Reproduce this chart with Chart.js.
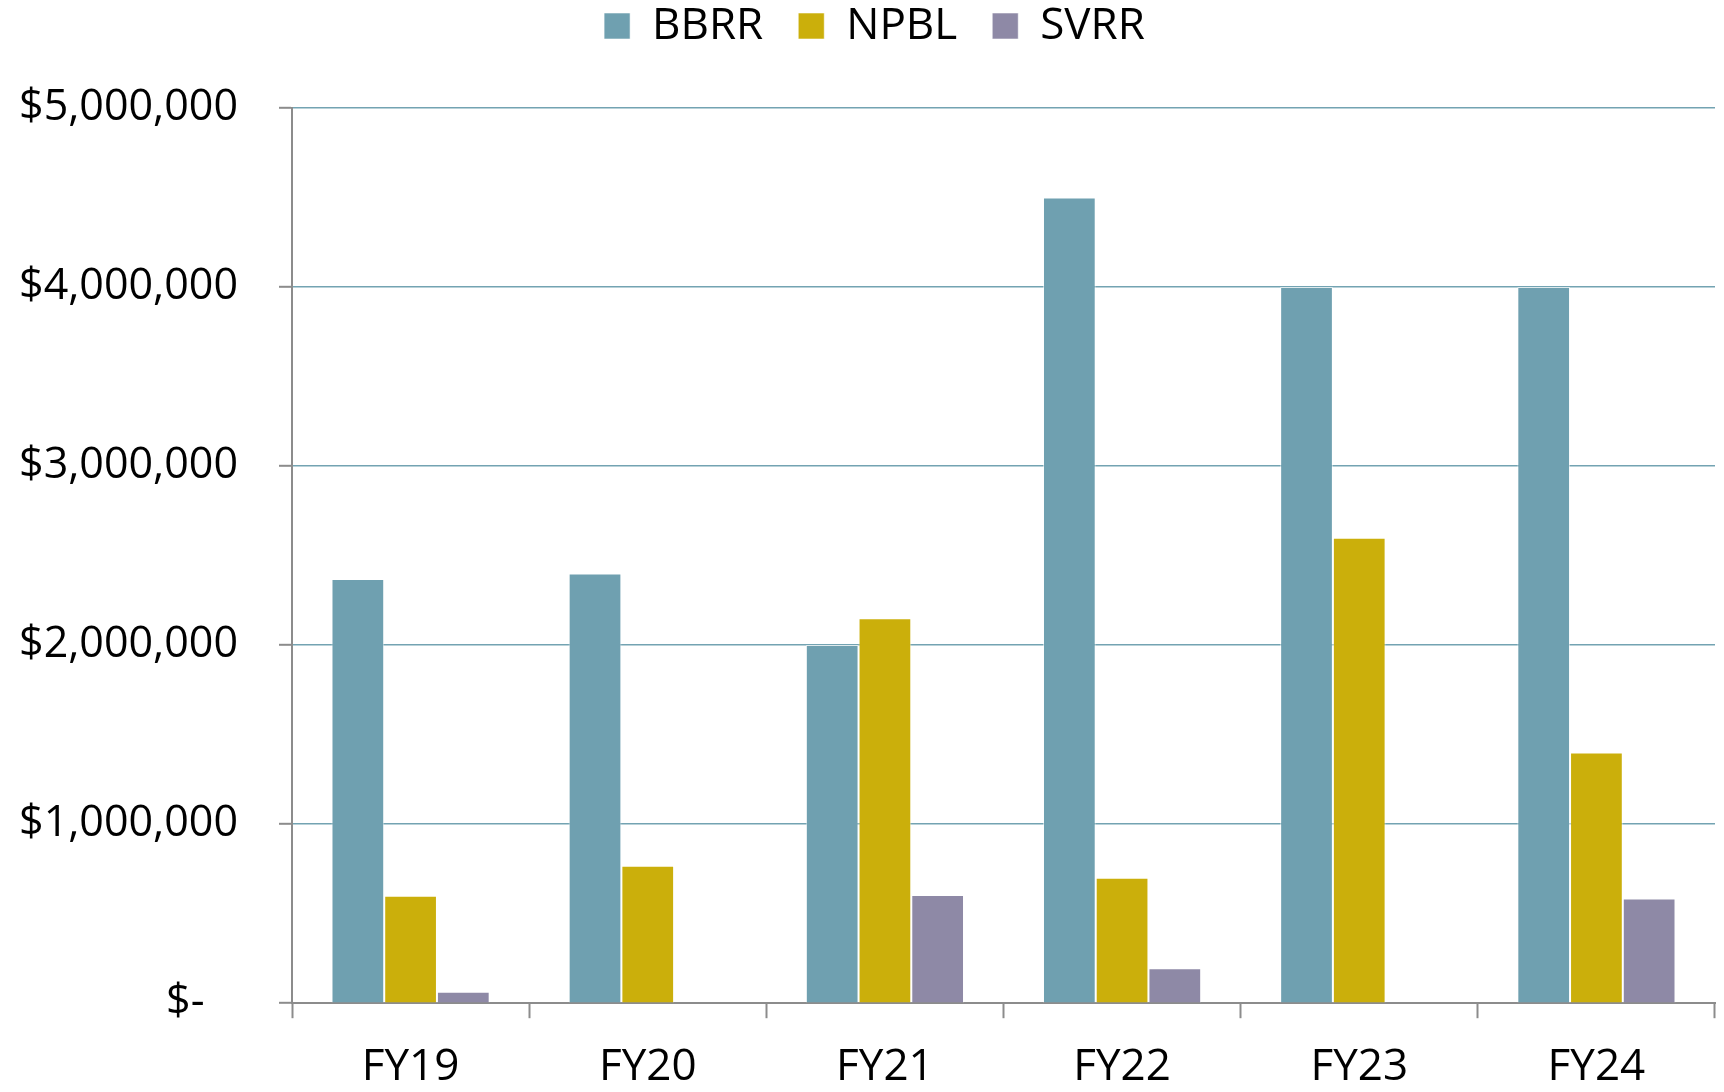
<!DOCTYPE html>
<html>
<head>
<meta charset="utf-8">
<script src="https://cdn.jsdelivr.net/npm/chart.js@4.4.1/dist/chart.umd.min.js"></script>
<style>
  html, body { margin: 0; padding: 0; background: #fff; }
  #wrap { width: 1724px; height: 1092px; }
</style>
</head>
<body>
<div id="wrap"><canvas id="myBarChart" width="1724" height="1092"></canvas></div>
<script>
// Fiscal years and funding per program
const years = ['FY19', 'FY20', 'FY21', 'FY22', 'FY23', 'FY24'];
const bbrr = [2370000, 2400000, 2000000, 4500000, 4000000, 4000000];
const npbl = [600000, 768000, 2150000, 700000, 2600000, 1400000];
const svrr = [64000, 0, 605000, 195000, 0, 585000];
const yTicks = [0, 1000000, 2000000, 3000000, 4000000, 5000000];

const FONT = "'Open Sans', 'Noto Sans', sans-serif";
const axisGray = '#8c8c8c';

// give the legend more room below it and nudge it a little to the right
const legendSpacer = {
    id: 'legendSpacer',
    beforeInit(chart) {
        const origFit = chart.legend.fit;
        chart.legend.fit = function () {
            origFit.bind(chart.legend)();
            this.height += 50;
        };
    },
    afterLayout(chart) {
        chart.legend.left += 34;
    }
};

const ctx = document.getElementById('myBarChart').getContext('2d');
const myBarChart = new Chart(ctx, {
    type: 'bar',
    data: {
        labels: years,
        datasets: [
            { label: 'BBRR', data: bbrr, backgroundColor: '#6fa0b0' },
            { label: 'NPBL', data: npbl, backgroundColor: '#cbaf0b' },
            { label: 'SVRR', data: svrr, backgroundColor: '#8e89a6' }
        ].map(ds => Object.assign(ds, {
            borderColor: 'rgba(255,255,255,0.55)',
            borderWidth: 1,
            categoryPercentage: 0.667,
            barPercentage: 1.0
        }))
    },
    options: {
        responsive: false,
        animation: false,
        layout: { padding: { left: 0, right: 9, top: -31, bottom: -25 } },
        plugins: {
            tooltip: { enabled: false },
            legend: {
                position: 'top',
                labels: {
                    boxWidth: 26,
                    boxHeight: 26,
                    padding: 35,
                    color: '#000',
                    font: { family: FONT, size: 44 }
                }
            }
        },
        scales: {
            x: {
                grid: {
                    offset: true,
                    drawOnChartArea: false,
                    tickLength: 15,
                    tickColor: axisGray,
                    tickWidth: 2
                },
                border: { color: axisGray, width: 2 },
                ticks: {
                    padding: 23,
                    color: '#000',
                    font: { family: FONT, size: 44 }
                }
            },
            y: {
                min: 0,
                max: 5000000,
                afterFit(scale) { scale.width = 292; },
                afterBuildTicks(scale) { scale.ticks = yTicks.map(v => ({ value: v })); },
                grid: {
                    color: '#73a3b2',
                    lineWidth: 1.6,
                    tickLength: 13,
                    tickColor: axisGray,
                    tickWidth: 2
                },
                border: { color: axisGray, width: 2 },
                ticks: {
                    padding: 41,
                    color: '#000',
                    font: { family: FONT, size: 43 },
                    callback: v => v === 0 ? '$-   ' : '$' + v.toLocaleString('en-US')
                }
            }
        }
    },
    plugins: [legendSpacer]
});
</script>
</body>
</html>
